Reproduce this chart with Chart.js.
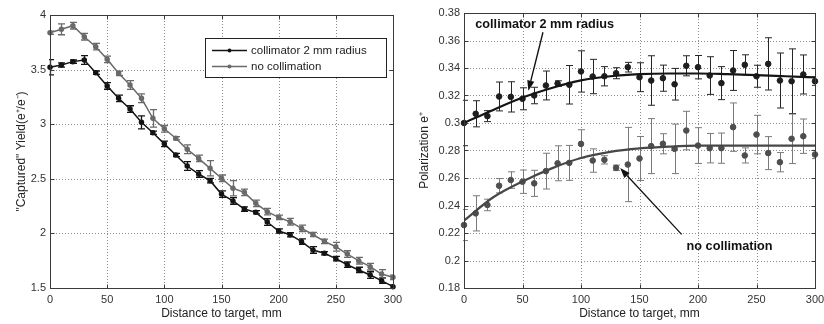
<!DOCTYPE html>
<html><head><meta charset="utf-8">
<script src="https://cdn.jsdelivr.net/npm/chart.js@4.4.1/dist/chart.umd.min.js"></script>
<style>
html,body{margin:0;padding:0;background:#fff;width:824px;height:324px;overflow:hidden;position:relative}
#cl{position:absolute;left:0;top:0}
#cr{position:absolute;left:412px;top:0}
</style></head><body>
<canvas id="cl" width="412" height="324"></canvas>
<canvas id="cr" width="440" height="324"></canvas>
<script>
// ---------- data ----------
const distance = [0,10,20,30,40,50,60,70,80,90,100,110,120,130,140,150,160,170,180,190,200,210,220,230,240,250,260,270,280,290,300];

// left panel: captured yield
const yieldCollimator = [3.521,3.542,3.573,3.588,3.472,3.350,3.237,3.139,3.017,2.922,2.820,2.718,2.617,2.544,2.483,2.360,2.297,2.223,2.193,2.104,2.022,1.988,1.924,1.848,1.818,1.769,1.713,1.665,1.619,1.567,1.512];
const yieldCollimatorErr = [0.07,0.02,0.015,0.04,0.015,0.03,0.03,0.03,0.06,0.015,0.025,0.015,0.04,0.03,0.02,0.03,0.03,0.02,0.015,0.03,0.02,0.02,0.025,0.03,0.015,0.02,0.025,0.025,0.03,0.025,0.015];
const yieldNoColl = [3.838,3.869,3.902,3.801,3.710,3.594,3.466,3.359,3.237,3.054,2.958,2.871,2.770,2.687,2.596,2.505,2.413,2.376,2.275,2.199,2.147,2.107,2.046,1.990,1.927,1.878,1.811,1.750,1.695,1.628,1.598];
const yieldNoCollErr = [0.015,0.05,0.03,0.03,0.03,0.03,0.02,0.04,0.04,0.08,0.03,0.015,0.04,0.03,0.07,0.03,0.07,0.03,0.03,0.03,0.02,0.03,0.03,0.02,0.02,0.04,0.03,0.03,0.03,0.04,0.02];

// right panel: polarization
const polCollimator = [0.3000,0.3067,0.3050,0.3193,0.3190,0.3176,0.3200,0.3273,0.3287,0.3278,0.3375,0.3338,0.3340,0.3362,0.3406,0.3333,0.3309,0.3326,0.3282,0.3416,0.3406,0.3345,0.3290,0.3382,0.3423,0.3340,0.3430,0.3309,0.3304,0.3353,0.3304];
const polCollimatorErr = [0.0165,0.0095,0.004,0.0105,0.011,0.008,0.006,0.0105,0.002,0.014,0.015,0.0125,0.007,0.004,0.0035,0.0105,0.018,0.0095,0.0115,0.0073,0.0085,0.0137,0.012,0.0145,0.0073,0.008,0.019,0.02,0.0235,0.0142,0.003];
const polNoColl = [0.2258,0.2343,0.2404,0.2544,0.2585,0.2573,0.2561,0.2650,0.2707,0.2710,0.2848,0.2727,0.2732,0.2674,0.2698,0.2742,0.2832,0.2849,0.2812,0.2945,0.2836,0.2817,0.2817,0.2970,0.2764,0.2916,0.2781,0.2715,0.2885,0.2904,0.2771];
const polNoCollErr = [0.0113,0.0128,0.0042,0.0052,0.006,0.0085,0.0095,0.013,0.0127,0.0127,0.0103,0.0085,0.003,0.002,0.027,0.016,0.02,0.0073,0.018,0.014,0.013,0.0107,0.011,0.0176,0.0055,0.014,0.012,0.007,0.018,0.0125,0.003];

// fitted curves (right panel)
const fitDistance = [0,25,50,75,100,125,150,175,200,225,250,275,300];
const fitCollimator = [0.300,0.3095,0.3185,0.3255,0.3310,0.3340,0.3355,0.3360,0.3360,0.3355,0.3348,0.3340,0.3332];
const fitNoColl = [0.2290,0.2460,0.2575,0.2670,0.2745,0.2790,0.2815,0.2828,0.2835,0.2835,0.2835,0.2835,0.2835];

// ticks
const xTickValues = [0,50,100,150,200,250,300];
const xTickLabels = ['0','50','100','150','200','250','300'];
const yTickValuesLeft = [1.5,2,2.5,3,3.5,4];
const yTickLabelsLeft = ['1.5','2','2.5','3','3.5','4'];
const yTickValuesRight = [0.18,0.2,0.22,0.24,0.26,0.28,0.3,0.32,0.34,0.36,0.38];
const yTickLabelsRight = ['0.18','0.2','0.22','0.24','0.26','0.28','0.3','0.32','0.34','0.36','0.38'];

// labels
const seriesNames = ['collimator 2 mm radius','no collimation'];
const xTitle = 'Distance to target, mm';
const yTitleLeft = '"Captured" Yield(e\u207A/e\u207B)';
const yTitleRight = 'Polarization e\u207A';

// annotations (data coordinates of right panel)
const notes = [
  {text:'collimator 2 mm radius', tx:69, ty:0.3715, fx:67.5, fy:0.3660, ax:55, ay:0.3235},
  {text:'no collimation', tx:227, ty:0.2103, fx:186, fy:0.2190, ax:133.5, ay:0.2672}
];

// ---------- styling / plugins ----------
const FONT = "'Liberation Sans', Arial, Helvetica, sans-serif";
Chart.defaults.font.family = FONT;
Chart.defaults.color = '#2a2a2a';

const pts = (xs, ys) => xs.map((x,i)=>({x:x, y:ys[i]}));

const errorBars = {
  id:'errorBars',
  beforeDatasetsDraw(chart){
    const {ctx, chartArea:a, scales:{y}} = chart;
    ctx.save();
    ctx.beginPath(); ctx.rect(a.left-1, a.top, a.right-a.left+2, a.bottom-a.top); ctx.clip();
    chart.data.datasets.forEach((ds,i)=>{
      if(!ds.errors) return;
      const meta = chart.getDatasetMeta(i);
      ctx.strokeStyle = ds.errColor; ctx.lineWidth = ds.errWidth || 1;
      meta.data.forEach((p,j)=>{
        const v = ds.data[j].y, e = ds.errors[j];
        const x = Math.round(p.x)+0.5;
        const y1 = y.getPixelForValue(v+e), y2 = y.getPixelForValue(v-e);
        const c = ds.capHalf;
        ctx.beginPath();
        ctx.moveTo(x,y1); ctx.lineTo(x,y2);
        ctx.moveTo(x-c,y1); ctx.lineTo(x+c,y1);
        ctx.moveTo(x-c,y2); ctx.lineTo(x+c,y2);
        ctx.stroke();
      });
    });
    ctx.restore();
  }
};

const matlabAxes = {
  id:'matlabAxes',
  beforeDatasetsDraw(chart){
    const {ctx, chartArea:a, scales:{x,y}} = chart;
    ctx.save();
    ctx.strokeStyle = '#8c8c8c'; ctx.lineWidth = 1; ctx.setLineDash([1,2]);
    x.ticks.forEach(t=>{
      const px = Math.round(x.getPixelForValue(t.value))+0.5;
      if(px > a.left+2 && px < a.right-2){ ctx.beginPath(); ctx.moveTo(px,a.top); ctx.lineTo(px,a.bottom); ctx.stroke(); }
    });
    y.ticks.forEach(t=>{
      const py = Math.round(y.getPixelForValue(t.value))+0.5;
      if(py > a.top+2 && py < a.bottom-2){ ctx.beginPath(); ctx.moveTo(a.left,py); ctx.lineTo(a.right,py); ctx.stroke(); }
    });
    ctx.restore();
  },
  afterDatasetsDraw(chart){
    const {ctx, chartArea:a, scales:{x,y}} = chart;
    const L = Math.round(a.left)+0.5, R = Math.round(a.right)+0.5, T = Math.round(a.top)+0.5, B = Math.round(a.bottom)+0.5;
    ctx.save();
    ctx.strokeStyle = '#3a3a3a'; ctx.lineWidth = 1;
    ctx.strokeRect(L, T, R-L, B-T);
    const tl = 4;
    ctx.beginPath();
    x.ticks.forEach(t=>{
      const px = Math.round(x.getPixelForValue(t.value))+0.5;
      ctx.moveTo(px,B); ctx.lineTo(px,B-tl);
      ctx.moveTo(px,T); ctx.lineTo(px,T+tl);
    });
    y.ticks.forEach(t=>{
      const py = Math.round(y.getPixelForValue(t.value))+0.5;
      ctx.moveTo(L,py); ctx.lineTo(L+tl,py);
      ctx.moveTo(R,py); ctx.lineTo(R-tl,py);
    });
    ctx.stroke();
    ctx.restore();
  }
};

const boxLegend = {
  id:'boxLegend',
  afterDraw(chart){
    const {ctx} = chart;
    const bx = 205.5, by = 38.5, bw = 181, bh = 39;
    ctx.save();
    ctx.fillStyle = '#fff'; ctx.fillRect(bx,by,bw,bh);
    ctx.strokeStyle = '#222'; ctx.lineWidth = 1; ctx.strokeRect(bx,by,bw,bh);
    ctx.font = '11.5px ' + FONT; ctx.textBaseline = 'middle'; ctx.fillStyle = '#222';
    chart.data.datasets.forEach((ds,i)=>{
      const yy = 50.5 + i*16;
      ctx.strokeStyle = ds.borderColor; ctx.lineWidth = 1.5;
      ctx.beginPath(); ctx.moveTo(212,yy); ctx.lineTo(247,yy); ctx.stroke();
      ctx.fillStyle = ds.borderColor;
      ctx.beginPath(); ctx.arc(229.5,yy,2,0,Math.PI*2); ctx.fill();
      ctx.fillStyle = '#222';
      ctx.fillText(ds.label, 251, yy);
    });
    ctx.restore();
  }
};

const arrowNotes = {
  id:'arrowNotes',
  afterDraw(chart){
    const {ctx, scales:{x,y}} = chart;
    ctx.save();
    notes.forEach(n=>{
      const fx = x.getPixelForValue(n.fx), fy = y.getPixelForValue(n.fy);
      const ax = x.getPixelForValue(n.ax), ay = y.getPixelForValue(n.ay);
      ctx.strokeStyle = '#111'; ctx.fillStyle = '#111'; ctx.lineWidth = 1.3;
      const ang = Math.atan2(ay-fy, ax-fx), hl = 10, hw = 3.6;
      const bxp = ax - hl*Math.cos(ang), byp = ay - hl*Math.sin(ang);
      ctx.beginPath(); ctx.moveTo(fx,fy); ctx.lineTo(bxp,byp); ctx.stroke();
      ctx.beginPath();
      ctx.moveTo(ax,ay);
      ctx.lineTo(bxp + hw*Math.sin(ang), byp - hw*Math.cos(ang));
      ctx.lineTo(bxp - hw*Math.sin(ang), byp + hw*Math.cos(ang));
      ctx.closePath(); ctx.fill();
      ctx.font = 'bold 12.7px ' + FONT; ctx.textAlign = 'center'; ctx.textBaseline = 'middle';
      ctx.fillText(n.text, x.getPixelForValue(n.tx), y.getPixelForValue(n.ty));
    });
    ctx.restore();
  }
};

function xScale(){
  return {
    type:'linear', min:0, max:300,
    afterBuildTicks(s){ s.ticks = xTickValues.map(v=>({value:v})); },
    afterFit(s){ s.height = 36; },
    grid:{display:false, drawTicks:false}, border:{display:false},
    ticks:{padding:5, font:{size:11}, color:'#333', maxRotation:0, autoSkip:false,
           callback:(v,i)=>xTickLabels[i]},
    title:{display:true, text:xTitle, font:{size:12}, color:'#222', padding:{top:0,bottom:2.8}}
  };
}
function yScale(min,max,vals,labs,w,title,tpad){
  return {
    type:'linear', min:min, max:max,
    afterBuildTicks(s){ s.ticks = vals.map(v=>({value:v})); },
    afterFit(s){ s.width = w; },
    grid:{display:false, drawTicks:false}, border:{display:false},
    ticks:{padding:4, font:{size:11}, color:'#333', autoSkip:false,
           callback:(v,i)=>labs[i]},
    title:{display:true, text:title, font:{size:12}, color:'#222', padding:{top:tpad,bottom:0}}
  };
}

const common = {
  responsive:false, animation:false, devicePixelRatio:1,
  plugins:{legend:{display:false}, tooltip:{enabled:false}}
};

new Chart(document.getElementById('cl'), {
  type:'line',
  data:{datasets:[
    {label:seriesNames[0], data:pts(distance,yieldCollimator), errors:yieldCollimatorErr,
     borderColor:'#141414', backgroundColor:'#141414', pointBackgroundColor:'#141414', pointBorderColor:'#141414',
     borderWidth:1.5, pointRadius:2, errColor:'#141414', errWidth:1.3, capHalf:3.5, clip:false},
    {label:seriesNames[1], data:pts(distance,yieldNoColl), errors:yieldNoCollErr,
     borderColor:'#6a6a6a', backgroundColor:'#6a6a6a', pointBackgroundColor:'#6a6a6a', pointBorderColor:'#6a6a6a',
     borderWidth:1.5, pointRadius:2, errColor:'#6a6a6a', errWidth:1.3, capHalf:3.5, clip:false}
  ]},
  options:Object.assign({}, common, {
    layout:{padding:{left:0, top:15, right:19, bottom:0}},
    scales:{x:xScale(), y:yScale(1.5,4,yTickValuesLeft,yTickLabelsLeft,50,yTitleLeft,14.8)}
  }),
  plugins:[matlabAxes, errorBars, boxLegend]
});

new Chart(document.getElementById('cr'), {
  type:'line',
  data:{datasets:[
    {label:seriesNames[0]+' fit', data:pts(fitDistance,fitCollimator), borderColor:'#151515',
     borderWidth:2.2, pointRadius:0, cubicInterpolationMode:'monotone'},
    {label:seriesNames[1]+' fit', data:pts(fitDistance,fitNoColl), borderColor:'#474747',
     borderWidth:2.2, pointRadius:0, cubicInterpolationMode:'monotone'},
    {label:seriesNames[0], data:pts(distance,polCollimator), errors:polCollimatorErr, showLine:false,
     pointRadius:2.8, pointBackgroundColor:'#1e1e1e', pointBorderColor:'#1e1e1e', borderColor:'#1e1e1e',
     errColor:'#262626', errWidth:1, capHalf:3.5, clip:false},
    {label:seriesNames[1], data:pts(distance,polNoColl), errors:polNoCollErr, showLine:false,
     pointRadius:2.8, pointBackgroundColor:'#4e4e4e', pointBorderColor:'#4e4e4e', borderColor:'#4e4e4e',
     errColor:'#7a7a7a', errWidth:1, capHalf:3.5, clip:false}
  ]},
  options:Object.assign({}, common, {
    layout:{padding:{left:0, top:13, right:37, bottom:0}},
    scales:{x:xScale(), y:yScale(0.18,0.38,yTickValuesRight,yTickLabelsRight,52,yTitleRight,5.8)}
  }),
  plugins:[matlabAxes, errorBars, arrowNotes]
});
</script>
</body></html>
